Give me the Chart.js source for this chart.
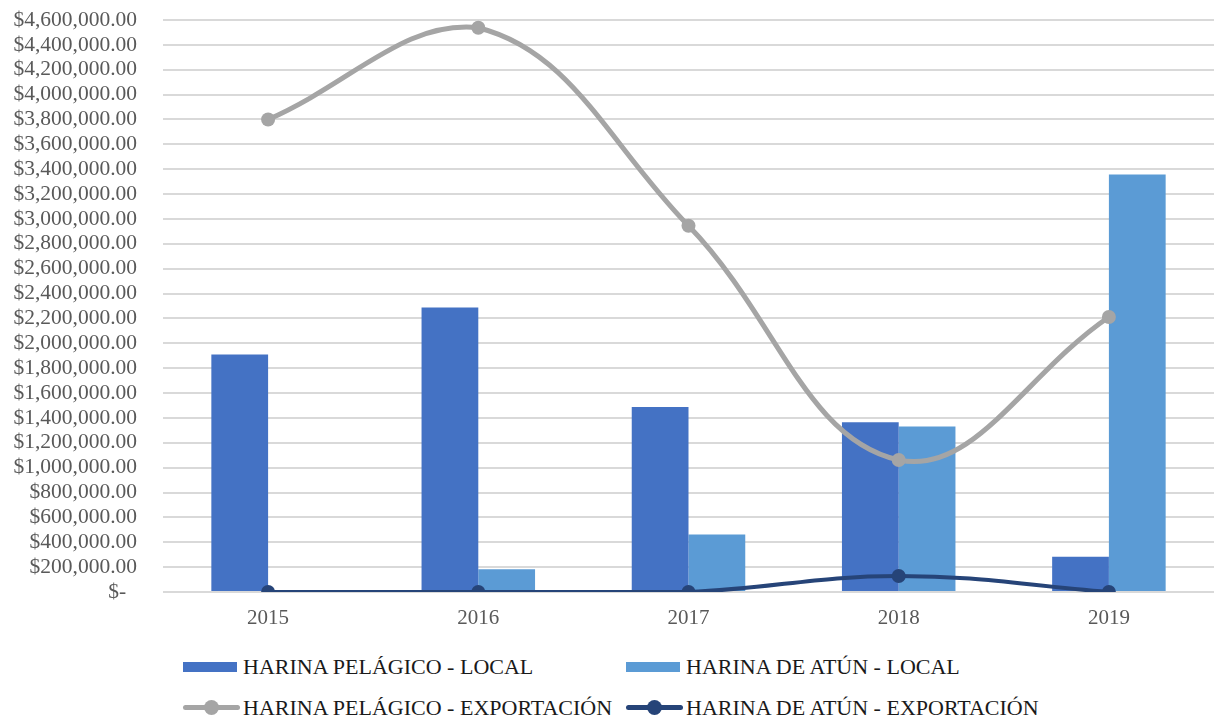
<!DOCTYPE html>
<html>
<head>
<meta charset="utf-8">
<script src="https://cdn.jsdelivr.net/npm/chart.js@4"></script>
<style>
  body { margin: 0; background: #fff; }
  #wrap { position: relative; width: 1221px; height: 720px; }
  #box { position: absolute; left: 0; top: 0; width: 1221px; height: 640px; }
  #legend { position: absolute; left: 183px; top: 655px; display: grid;
    grid-template-columns: 443px 443px; row-gap: 18px;
    font-family: "Times New Roman", "Liberation Serif", serif; font-size: 22px; color: #1a1a1a; }
  .item { display: flex; align-items: center; height: 23px; white-space: nowrap; }
  .swatch { position: relative; width: 54px; height: 23px; margin-right: 6px; flex: none; }
  .swatch .bar { position: absolute; left: 0; top: 7px; width: 54px; height: 10px; }
  .swatch .ln { position: absolute; left: 0; top: 9px; width: 57px; height: 5px; border-radius: 3px; }
  .swatch .dot { position: absolute; left: 21px; top: 4px; width: 15px; height: 15px; border-radius: 50%; }
</style>
</head>
<body>
<div id="wrap">
  <div id="box"><canvas id="myChart"></canvas></div>
  <div id="legend"></div>
</div>
<script>
const years = ["2015", "2016", "2017", "2018", "2019"]
const pelagicoLocal = [1910000, 2287000, 1488000, 1366000, 284000]
const atunLocal = [0, 183000, 462000, 1330000, 3358000]
const pelagicoExport = [3800000, 4538000, 2945000, 1062000, 2212000]
const atunExport = [0, 0, 0, 129000, 0]
const yMax = 4600000
const yStep = 200000

function money(v){
  if (v === 0) return "$-\u2002"
  return "$" + v.toLocaleString("en-US", {minimumFractionDigits: 2, maximumFractionDigits: 2})
}

const serif = "'Times New Roman', 'Liberation Serif', serif"

const ctx = document.getElementById("myChart")
const chart = new Chart(ctx, {
  type: "bar",
  data: {
    labels: years,
    datasets: [{
      label: "HARINA PELÁGICO - LOCAL",
      data: pelagicoLocal,
      backgroundColor: "#4472C4",
      order: 2
    },{
      label: "HARINA DE ATÚN - LOCAL",
      data: atunLocal,
      backgroundColor: "#5B9BD5",
      order: 2
    },{
      type: "line",
      label: "HARINA PELÁGICO - EXPORTACIÓN",
      data: pelagicoExport,
      borderColor: "#A5A5A5",
      backgroundColor: "#A5A5A5",
      borderWidth: 5,
      pointRadius: 7,
      pointBorderWidth: 0,
      tension: 0.4,
      fill: false,
      order: 1
    },{
      type: "line",
      label: "HARINA DE ATÚN - EXPORTACIÓN",
      data: atunExport,
      borderColor: "#264478",
      backgroundColor: "#264478",
      borderWidth: 4,
      pointRadius: 7,
      pointBorderWidth: 0,
      tension: 0.4,
      fill: false,
      order: 0
    }]
  },
  options: {
    responsive: true,
    maintainAspectRatio: false,
    animation: false,
    layout: { padding: { top: 20, right: 2, left: 0, bottom: 0 } },
    datasets: { bar: { categoryPercentage: 0.54, barPercentage: 1.0 } },
    plugins: { legend: { display: false }, tooltip: { enabled: false } },
    scales: {
      x: {
        grid: { display: false, drawTicks: false },
        border: { display: false },
        ticks: { color: "#595959", padding: 14,
          font: { family: serif, size: 21 } },
        afterFit: function(s){ s.height = 48 }
      },
      y: {
        min: 0,
        max: yMax,
        grid: { color: "#d9d9d9", lineWidth: 2, drawTicks: false },
        border: { display: false },
        ticks: { stepSize: yStep, autoSkip: false, color: "#595959", padding: 26,
          font: { family: serif, size: 21.5 },
          callback: function(v){ return money(v) } },
        afterFit: function(s){
          s.width = 163
          // tick padding only meant for the gap to the plot, not top/bottom
          s.paddingTop = 12
          s.paddingBottom = 12
        }
      }
    }
  }
})

// legend in two columns like the original
const legend = document.getElementById("legend")
chart.data.datasets.forEach(function(ds){
  const item = document.createElement("div")
  item.className = "item"
  const sw = document.createElement("span")
  sw.className = "swatch"
  if (ds.type === "line") {
    sw.innerHTML = '<span class="ln" style="background:' + ds.borderColor + '"></span>' +
      '<span class="dot" style="background:' + ds.borderColor + '"></span>'
  } else {
    sw.innerHTML = '<span class="bar" style="background:' + ds.backgroundColor + '"></span>'
  }
  const txt = document.createElement("span")
  txt.textContent = ds.label
  item.appendChild(sw)
  item.appendChild(txt)
  legend.appendChild(item)
})
</script>
</body>
</html>
